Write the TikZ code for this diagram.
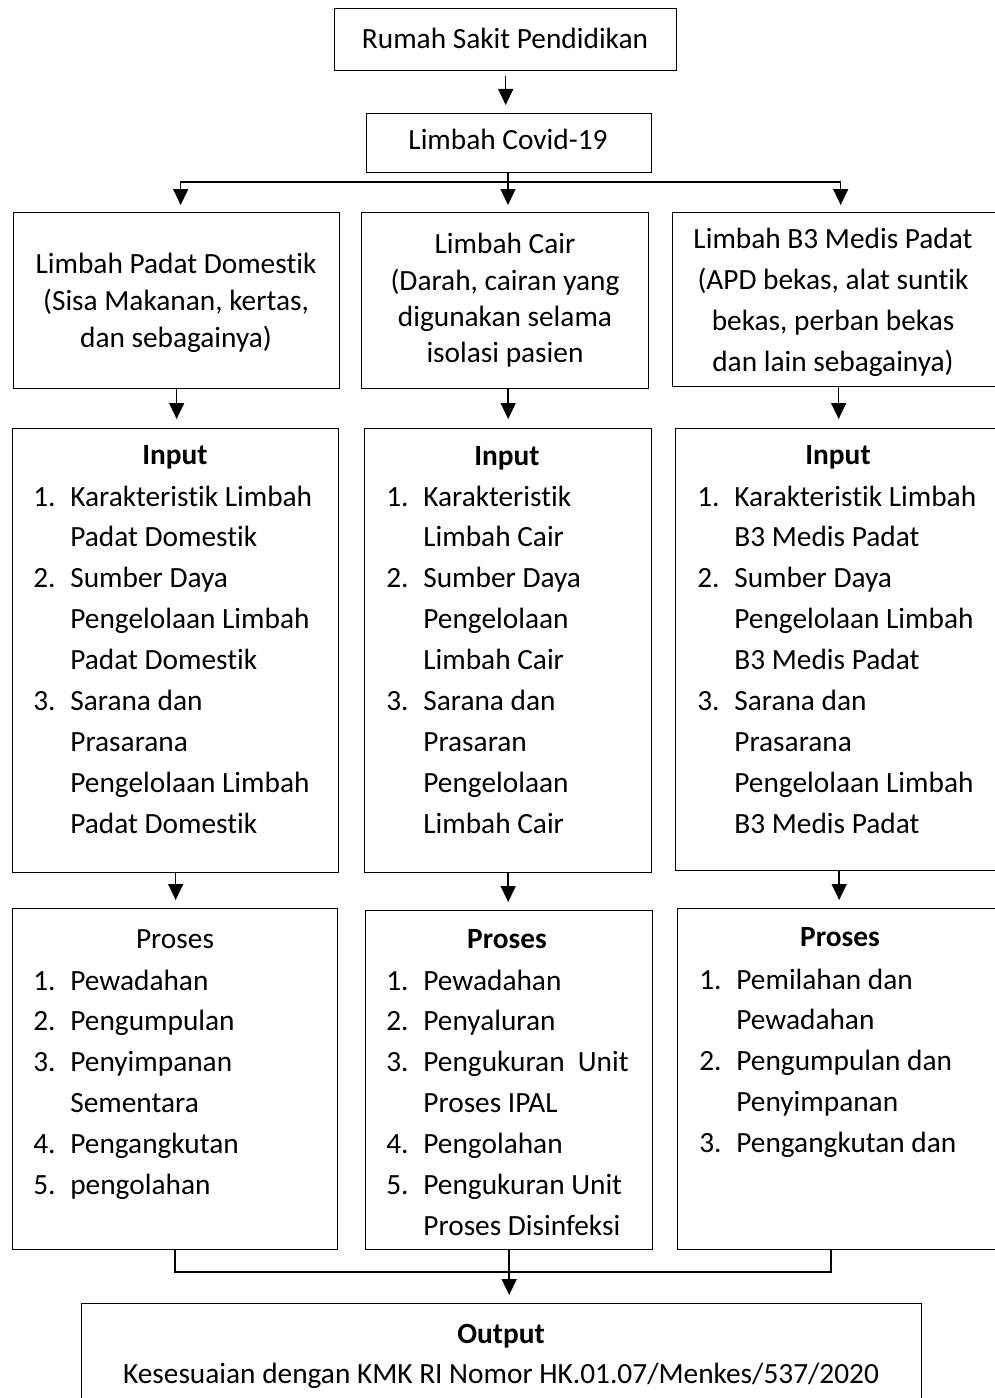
\documentclass[tikz,border=0pt]{standalone}
\usepackage{fontspec}
\setmainfont[Ligatures=NoCommon]{Carlito}
\usetikzlibrary{arrows.meta,positioning}

\newcommand{\nb}[1]{\makebox[0.74cm][l]{#1}}
\newcommand{\ind}{\hspace*{0.74cm}}

\tikzset{
	box/.style={draw,line width=0.8pt,anchor=north west,inner sep=0pt},
	txt/.style={inner sep=0pt,font=\fontsize{16.7}{23.3}\selectfont},
	lst/.style={txt,align=left,anchor=north west},
	arr/.style={-{Triangle[length=0.32cm,width=0.3cm]},line width=0.8pt},
	ln/.style={line width=0.8pt},
}

\begin{document}
\begin{tikzpicture}[x=0.02cm,y=-0.02cm]
	\useasboundingbox (0,0) rectangle (994,1398);
	% boxes
	\node [box,minimum width=6.84cm,minimum height=1.24cm] (rs) at (334,8) {};
	\node [box,minimum width=5.7cm,minimum height=1.18cm] (cv) at (366,113) {};
	\node [box,minimum width=6.52cm,minimum height=3.52cm] (d1) at (13,212) {};
	\node [box,minimum width=5.74cm,minimum height=3.52cm] (d2) at (361,212) {};
	\node [box,minimum width=6.64cm,minimum height=3.48cm] (d3) at (672,212) {};
	\node [box,minimum width=6.52cm,minimum height=8.88cm] (i1) at (12,428) {};
	\node [box,minimum width=5.74cm,minimum height=8.88cm] (i2) at (364,428) {};
	\node [box,minimum width=6.58cm,minimum height=8.84cm] (i3) at (675,428) {};
	\node [box,minimum width=6.5cm,minimum height=6.82cm] (p1) at (12,908) {};
	\node [box,minimum width=5.74cm,minimum height=6.78cm] (p2) at (365,910) {};
	\node [box,minimum width=6.54cm,minimum height=6.82cm] (p3) at (677,908) {};
	\node [box,minimum width=16.8cm,minimum height=2.4cm] (out) at (81,1303) {};

	% texts
	\node [txt] (rst) at (505,40) {\strut Rumah Sakit Pendidikan};
	\node [txt] (cvt) at (508,141) {\strut Limbah Covid-19};
	\node [txt,align=center,font=\fontsize{16.7}{21}\selectfont] (d1t) at (176,303)
		{\strut Limbah Padat Domestik\\\strut (Sisa Makanan, kertas,\\\strut dan sebagainya)};
	\node [txt,align=center,font=\fontsize{16.7}{20.7}\selectfont] (d2t) at (505,301)
		{\strut Limbah Cair\\\strut (Darah, cairan yang\\\strut digunakan selama\\\strut isolasi pasien};
	\node [txt,align=center] (d3t) at (833,302)
		{\strut Limbah B3 Medis Padat\\\strut (APD bekas, alat suntik\\\strut bekas, perban bekas\\\strut dan lain sebagainya)};

	\node [txt] (i1h) at (175,456) {\strut\textbf{Input}};
	\node [txt] (i2h) at (507,457) {\strut\textbf{Input}};
	\node [txt] (i3h) at (838,456) {\strut\textbf{Input}};
	\node [lst] (i1t) at (33,477) {%
		\strut\nb{1.}Karakteristik Limbah\\\strut\ind Padat Domestik\\
		\strut\nb{2.}Sumber Daya\\\strut\ind Pengelolaan Limbah\\\strut\ind Padat Domestik\\
		\strut\nb{3.}Sarana dan\\\strut\ind Prasarana\\\strut\ind Pengelolaan Limbah\\\strut\ind Padat Domestik};
	\node [lst] (i2t) at (386,477) {%
		\strut\nb{1.}Karakteristik\\\strut\ind Limbah Cair\\
		\strut\nb{2.}Sumber Daya\\\strut\ind Pengelolaan\\\strut\ind Limbah Cair\\
		\strut\nb{3.}Sarana dan\\\strut\ind Prasaran\\\strut\ind Pengelolaan\\\strut\ind Limbah Cair};
	\node [lst] (i3t) at (697,477) {%
		\strut\nb{1.}Karakteristik Limbah\\\strut\ind B3 Medis Padat\\
		\strut\nb{2.}Sumber Daya\\\strut\ind Pengelolaan Limbah\\\strut\ind B3 Medis Padat\\
		\strut\nb{3.}Sarana dan\\\strut\ind Prasarana\\\strut\ind Pengelolaan Limbah\\\strut\ind B3 Medis Padat};

	\node [txt] (p1h) at (175,940) {\strut Proses};
	\node [txt] (p2h) at (507,940) {\strut\textbf{Proses}};
	\node [txt] (p3h) at (840,938) {\strut\textbf{Proses}};
	\node [lst] (p1t) at (33,961) {%
		\strut\nb{1.}Pewadahan\\\strut\nb{2.}Pengumpulan\\
		\strut\nb{3.}Penyimpanan\\\strut\ind Sementara\\
		\strut\nb{4.}Pengangkutan\\\strut\nb{5.}pengolahan};
	\node [lst] (p2t) at (386,961) {%
		\strut\nb{1.}Pewadahan\\\strut\nb{2.}Penyaluran\\
		\strut\nb{3.}Pengukuran\ \ Unit\\\strut\ind Proses IPAL\\
		\strut\nb{4.}Pengolahan\\
		\strut\nb{5.}Pengukuran Unit\\\strut\ind Proses Disinfeksi};
	\node [lst] (p3t) at (699,960) {%
		\strut\nb{1.}Pemilahan dan\\\strut\ind Pewadahan\\
		\strut\nb{2.}Pengumpulan dan\\\strut\ind Penyimpanan\\
		\strut\nb{3.}Pengangkutan dan};

	\node [txt] (outh) at (501,1335) {\strut\textbf{Output}};
	\node [txt] (outt) at (501,1375) {\strut Kesesuaian dengan KMK RI Nomor HK.01.07/Menkes/537/2020};

	% connectors
	\coordinate (sp) at (508,182);
	\coordinate (jn) at (508,1272);
	\draw [arr,shorten <=0.1cm,shorten >=0.16cm] (rs.south) -- (rs.south |- cv.north);
	\draw [ln] (sp |- cv.south) -- (sp);
	\draw [arr,shorten >=0.14cm] (sp) -| ([xshift=0.08cm]d1.north);
	\draw [arr,shorten >=0.14cm] (sp) -- (sp |- d2.north);
	\draw [arr,shorten >=0.14cm] (sp) -| ([xshift=0.04cm]d3.north);
	\draw [arr,shorten >=0.18cm] (d1.south) -- (d1.south |- i1.north);
	\draw [arr,shorten >=0.18cm] (d2.south -| i2.north) -- (i2.north);
	\draw [arr,shorten >=0.18cm] (d3.south) -- (d3.south |- i3.north);
	\draw [arr,shorten >=0.16cm] (i1.south) -- (i1.south |- p1.north);
	\draw [arr,shorten >=0.16cm] (i2.south) -- (i2.south |- p2.north);
	\draw [arr,shorten >=0.16cm] ([xshift=-0.02cm]i3.south) -- ([xshift=-0.02cm]i3.south |- p3.north);
	\draw [ln] (p1.south) |- (jn);
	\draw [ln] ([xshift=-0.2cm]p3.south) |- (jn);
	\draw [arr,shorten >=0.16cm] (p2.south) -- (p2.south |- out.north);
\end{tikzpicture}
\end{document}
